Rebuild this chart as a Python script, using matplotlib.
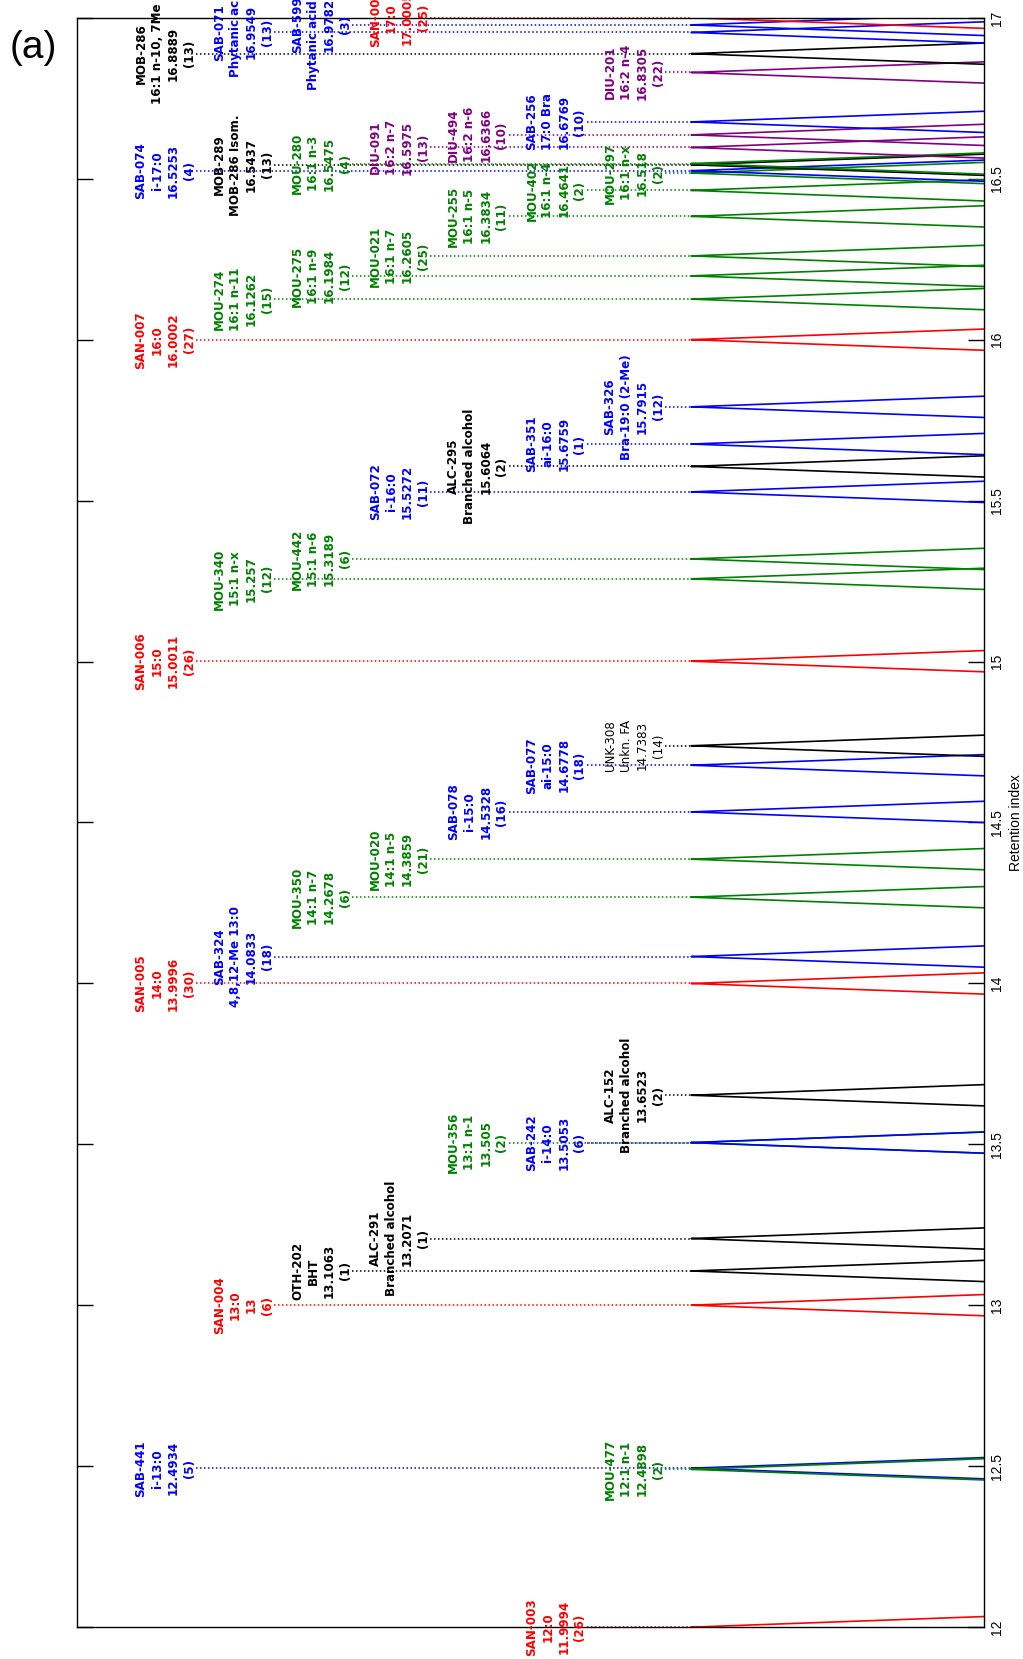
import numpy as np
import matplotlib
matplotlib.use("Agg")
import matplotlib.pyplot as plt

# peak table: code, name, retention index, count, group
codes = ["SAN-003", "SAB-441", "MOU-477", "SAN-004", "OTH-202", "ALC-291",
         "MOU-356", "SAB-242", "ALC-152", "SAN-005", "SAB-324", "MOU-350",
         "MOU-020", "SAB-078", "SAB-077", "UNK-308", "SAN-006", "MOU-340",
         "MOU-442", "SAB-072", "ALC-295", "SAB-351", "SAB-326", "SAN-007",
         "MOU-274", "MOU-275", "MOU-021", "MOU-255", "MOU-402", "MOU-297",
         "SAB-074", "MOB-289", "MOU-280", "DIU-091", "DIU-494", "SAB-256",
         "DIU-201", "MOB-286", "SAB-071", "SAB-599", "SAN-008"]
names = ["12:0", "i-13:0", "12:1 n-1", "13:0", "BHT", "Branched alcohol",
         "13:1 n-1", "i-14:0", "Branched alcohol", "14:0", "4,8,12-Me 13:0", "14:1 n-7",
         "14:1 n-5", "i-15:0", "ai-15:0", "Unkn. FA", "15:0", "15:1 n-x",
         "15:1 n-6", "i-16:0", "Branched alcohol", "ai-16:0", "Bra-19:0 (2-Me)", "16:0",
         "16:1 n-11", "16:1 n-9", "16:1 n-7", "16:1 n-5", "16:1 n-4", "16:1 n-x",
         "i-17:0", "MOB-286 Isom.", "16:1 n-3", "16:2 n-7", "16:2 n-6", "17:0 Bra",
         "16:2 n-4", "16:1 n-10, 7Me", "Phytanic acid", "Phytanic acid Isom.", "17:0"]
ri = [11.9994, 12.4934, 12.4898, 13.0, 13.1063, 13.2071,
      13.505, 13.5053, 13.6523, 13.9996, 14.0833, 14.2678,
      14.3859, 14.5328, 14.6778, 14.7383, 15.0011, 15.257,
      15.3189, 15.5272, 15.6064, 15.6759, 15.7915, 16.0002,
      16.1262, 16.1984, 16.2605, 16.3834, 16.4641, 16.518,
      16.5253, 16.5437, 16.5475, 16.5975, 16.6366, 16.6769,
      16.8305, 16.8889, 16.9549, 16.9782, 17.0005]
counts = [26, 5, 2, 6, 1, 1,
          2, 6, 2, 30, 18, 6,
          21, 16, 18, 14, 26, 12,
          6, 11, 2, 1, 12, 27,
          15, 12, 25, 11, 2, 2,
          4, 13, 4, 13, 10, 10,
          22, 13, 13, 3, 25]
groups = [c[:3] for c in codes]

# column (staircase slot) where each label sits
label_col = [5, 0, 6, 1, 2, 3,
             4, 5, 6, 0, 1, 2,
             3, 4, 5, 6, 0, 1,
             2, 3, 4, 5, 6, 0,
             1, 2, 3, 4, 5, 6,
             0, 1, 2, 3, 4, 5,
             6, 0, 1, 2, 3]

ri_ticks = np.arange(12, 17.01, 0.5)

colors = {"SAN": "#ff0000", "SAB": "#0000ff", "MOU": "#008000", "DIU": "#800080",
          "MOB": "#000000", "ALC": "#000000", "OTH": "#000000", "UNK": "#000000"}

fig = plt.figure(figsize=(10.23, 16.59), dpi=100)
ax = fig.add_axes([0.0753, 0.0193, 0.9619 - 0.0753, 0.9892 - 0.0193])

apex_frac = 0.677          # where the peak tops sit, fraction of axis width
xmax = 1 / (1 - apex_frac)
half_w = 0.033             # peak half width at baseline (RI units)
col0, col_step, gap = 0.097, 0.0862, 0.034


def frac_to_x(f):
    return xmax * (1 - f)


for code, name, r, n, g, k in zip(codes, names, ri, counts, groups, label_col):
    c = colors[g]
    d = np.linspace(-half_w, half_w, 61)
    inten = 1 - np.abs(d) / half_w
    ax.plot(inten, r + d, color=c, lw=1.2, zorder=2)

    xc = frac_to_x(col0 + col_step * k)
    xs = frac_to_x(col0 + col_step * k + gap)
    ax.plot([xs, 1.0], [r, r], color=c, lw=1.1, ls=(0, (1, 1.6)),
            zorder=1, clip_on=False)
    ax.text(xc, r, f"{code}\n{name}\n{r:g}\n({n})", rotation=90,
            ha="center", va="center", multialignment="center",
            fontsize=8.6, fontweight="normal" if g == "UNK" else "bold",
            color=c, linespacing=1.3, zorder=3)

ax.set_xlim(xmax, 0)
ax.set_xticks([])
ax.set_ylim(12, 17)
ax.tick_params(axis="y", direction="in", length=11.5, width=1,
               left=True, right=True, labelleft=False, labelright=True, pad=4)
ax.set_yticks(ri_ticks, labels=[f"{v:g}" for v in ri_ticks], rotation=90,
              va="center", fontsize=10, family="Liberation Sans")
for s in ax.spines.values():
    s.set_linewidth(1.0)

ax.yaxis.set_label_position("right")
ax.set_ylabel("Retention index", fontsize=10, family="Liberation Sans",
              rotation=90, va="center", ha="center")
ax.yaxis.set_label_coords(1.035, 0.5)

fig.text(0.033, 1 - 48 / 1659, "(a)", fontsize=28, family="Liberation Sans",
         ha="center", va="center")

fig.savefig("out.png", dpi=100)
